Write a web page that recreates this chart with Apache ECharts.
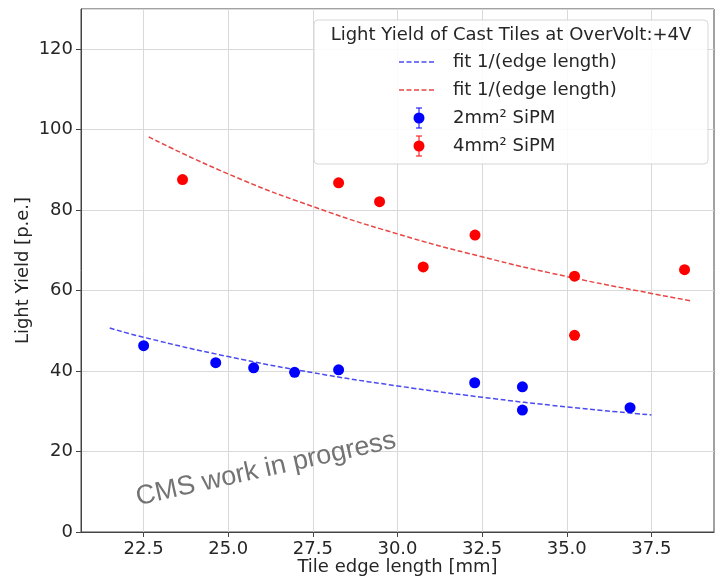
<!DOCTYPE html>
<html>
<head>
<meta charset="utf-8">
<script src="https://cdn.jsdelivr.net/npm/echarts@6/dist/echarts.min.js"></script>
<style>
  html, body { margin: 0; padding: 0; background: #fff; }
  #chart { width: 715px; height: 579px; }
</style>
</head>
<body>
<div id="chart"></div>
<script>
  // measured points
  const blueX = [22.5, 24.63, 25.75, 26.96, 28.26, 32.28, 33.69, 33.69, 36.87];
  const blueY = [46.3, 42.1, 40.8, 39.7, 40.3, 37.1, 36.1, 30.3, 30.9];
  const redX = [23.65, 28.26, 29.47, 30.76, 32.29, 35.23, 35.23, 38.48];
  const redY = [87.6, 86.8, 82.1, 65.9, 73.8, 63.6, 48.9, 65.2];

  // fit curves
  const blueFitX = [21.5, 22.5, 25.0, 27.5, 30.0, 32.5, 35.0, 37.5];
  const blueFitY = [50.7, 48.4, 43.6, 39.6, 36.3, 33.5, 31.1, 29.1];
  const redFitX = [22.65, 25.0, 27.5, 30.0, 32.5, 35.0, 37.5, 38.65];
  const redFitY = [98.2, 89.0, 80.9, 74.1, 68.4, 63.5, 59.3, 57.5];

  const xTicks = [22.5, 25.0, 27.5, 30.0, 32.5, 35.0, 37.5];

  const legendNames = ['fit 1/(edge length)', 'fit 1/(edge length)', '2mm² SiPM', '4mm² SiPM'];

  const zip = (xs, ys) => xs.map((x, i) => [x, ys[i]]);

  const font = 'DejaVu Sans';
  const txt = '#262626';
  const fitBlue = '#4b4bf0';
  const fitRed = '#e84545';

  const chart = echarts.init(document.getElementById('chart'));

  const legendRows = [62, 90, 118, 146];
  const legendGraphics = [
    {
      type: 'rect',
      shape: { x: 314, y: 20, width: 394, height: 144, r: 4 },
      style: { fill: 'rgba(255,255,255,0.85)', stroke: '#d6d6d6', lineWidth: 1 },
      z: 100,
    },
    {
      type: 'text',
      x: 511, y: 35,
      style: { text: 'Light Yield of Cast Tiles at OverVolt:+4V', font: '18px ' + font, fill: txt, align: 'center', verticalAlign: 'middle' },
      z: 101,
    },
  ];
  legendNames.forEach((name, i) => {
    const y = legendRows[i];
    legendGraphics.push({
      type: 'text',
      x: 453, y: y,
      style: { text: name, font: '18px ' + font, fill: txt, align: 'left', verticalAlign: 'middle' },
      z: 101,
    });
    if (i < 2) {
      legendGraphics.push({
        type: 'line',
        shape: { x1: 399, y1: y, x2: 436, y2: y },
        style: { stroke: i === 0 ? fitBlue : fitRed, lineWidth: 1.5, lineDash: [5, 2.5] },
        z: 101,
      });
    } else {
      const c = i === 2 ? '#0000ff' : '#ff0000';
      legendGraphics.push(
        { type: 'line', shape: { x1: 419, y1: y - 10, x2: 419, y2: y + 10 }, style: { stroke: c, lineWidth: 1 }, z: 101 },
        { type: 'line', shape: { x1: 416, y1: y - 10, x2: 422, y2: y - 10 }, style: { stroke: c, lineWidth: 1 }, z: 101 },
        { type: 'line', shape: { x1: 416, y1: y + 10, x2: 422, y2: y + 10 }, style: { stroke: c, lineWidth: 1 }, z: 101 },
        { type: 'circle', shape: { cx: 419, cy: y, r: 5.5 }, style: { fill: c }, z: 102 }
      );
    }
  });

  chart.setOption({
    animation: false,
    textStyle: { fontFamily: font },
    grid: {
      left: 81, top: 9, right: 1, bottom: 47,
      outerBoundsMode: 'none',
      containLabel: false,
      show: true, borderColor: '#444', borderWidth: 1, backgroundColor: 'transparent',
    },
    xAxis: {
      type: 'value',
      min: 20.65, max: 39.35,
      name: 'Tile edge length [mm]',
      nameLocation: 'middle',
      nameGap: 26,
      nameMoveOverlap: false,
      nameTextStyle: { fontSize: 18, color: txt, fontFamily: font },
      axisLine: { show: true, onZero: false, lineStyle: { color: '#444', width: 1 } },
      axisTick: { show: true, length: 5, customValues: xTicks, lineStyle: { color: '#444' } },
      axisLabel: { customValues: xTicks, fontSize: 18, color: txt, margin: 8, fontFamily: font,
        formatter: v => v.toFixed(1) },
      splitLine: { show: true, lineStyle: { color: '#d9d9d9', width: 1 } },
    },
    yAxis: {
      type: 'value',
      min: 0, max: 130, interval: 20,
      name: 'Light Yield [p.e.]',
      nameLocation: 'middle',
      nameGap: 49,
      nameMoveOverlap: false,
      nameTextStyle: { fontSize: 18, color: txt, fontFamily: font },
      axisLine: { show: true, onZero: false, lineStyle: { color: '#444', width: 1 } },
      axisTick: { show: true, length: 5, lineStyle: { color: '#444' } },
      axisLabel: { fontSize: 18, color: txt, margin: 8, showMaxLabel: false, fontFamily: font },
      splitLine: { show: true, lineStyle: { color: '#d9d9d9', width: 1 } },
    },
    series: [
      {
        type: 'line', data: zip(blueFitX, blueFitY), smooth: true, showSymbol: false,
        lineStyle: { color: fitBlue, width: 1.5, type: [5, 2.5] }, z: 3,
      },
      {
        type: 'line', data: zip(redFitX, redFitY), smooth: true, showSymbol: false,
        lineStyle: { color: fitRed, width: 1.5, type: [5, 2.5] }, z: 3,
      },
      {
        type: 'scatter', data: zip(blueX, blueY), symbolSize: 11,
        itemStyle: { color: '#0000ff', opacity: 1 }, z: 4,
      },
      {
        type: 'scatter', data: zip(redX, redY), symbolSize: 11,
        itemStyle: { color: '#ff0000', opacity: 1 }, z: 4,
      },
    ],
    graphic: [
      {
        type: 'text',
        x: 266, y: 469,
        rotation: 0.22,
        style: { text: 'CMS work in progress', font: '27px "Liberation Sans"', fill: '#737373', align: 'center', verticalAlign: 'middle' },
        z: 50,
      },
      ...legendGraphics,
    ],
  });
</script>
</body>
</html>
